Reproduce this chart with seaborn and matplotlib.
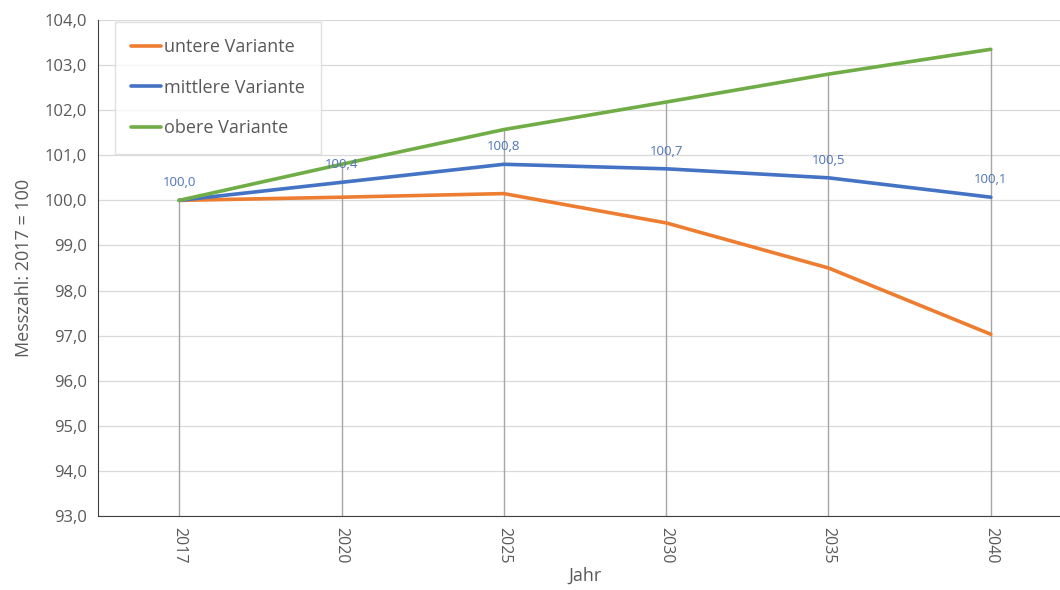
import numpy as np
import pandas as pd
import seaborn as sns
import matplotlib.pyplot as plt

# Data
jahre = ["2017", "2020", "2025", "2030", "2035", "2040"]
untere = [100.0, 100.07, 100.15, 99.5, 98.5, 97.03]
mittlere = [100.0, 100.4, 100.8, 100.7, 100.5, 100.07]
obere = [100.0, 100.8, 101.57, 102.18, 102.8, 103.35]
serien = ["untere Variante", "mittlere Variante", "obere Variante"]
farben = ["#ED7D31", "#4472C4", "#70AD47"]

df = pd.DataFrame({"Jahr": jahre, serien[0]: untere, serien[1]: mittlere, serien[2]: obere})
long = df.melt(id_vars="Jahr", var_name="Variante", value_name="Wert")
long["pos"] = long["Jahr"].map({j: i for i, j in enumerate(jahre)})

sns.set_style("white")
plt.rcParams["font.family"] = ["Open Sans", "DejaVu Sans"]
grau = "#595959"

fig = plt.figure(figsize=(10.6, 5.9), dpi=100)
# plot area runs slightly past the right edge of the image, as in the reference
ax = fig.add_axes([98 / 1060, 1 - 516 / 590, 974 / 1060, 496 / 590])

# horizontal gridlines
for y in np.arange(93, 104.01, 1):
    ax.axhline(y, color="#D9D9D9", lw=0.9, zorder=0)

# drop lines from the highest point down to the axis
maxima = df[serien].max(axis=1).values
ax.vlines(range(len(jahre)), 93, maxima, color="#A6A6A6", lw=1.0, zorder=1)

sns.lineplot(data=long, x="pos", y="Wert", hue="Variante", hue_order=serien,
             palette=farben, lw=2.6, ax=ax, zorder=3)

# data labels for the middle variant
for i, v in enumerate(mittlere):
    ax.annotate(f"{v:.1f}".replace(".", ","), (i, v), xytext=(0, 8),
                textcoords="offset points", ha="center", va="bottom",
                fontsize=9.5, color="#4E74B8", zorder=4)

ax.set_xlim(-0.5, len(jahre) - 0.5)
ax.set_ylim(93, 104)
ax.set_yticks(np.arange(93, 104.01, 1))
ax.set_yticklabels([f"{y:.1f}".replace(".", ",") for y in np.arange(93, 104.01, 1)],
                   fontsize=12, color=grau)
ax.set_xticks(range(len(jahre)))
ax.set_xticklabels(jahre, rotation=270, fontsize=11.5, color=grau)
ax.set_xticks(np.arange(-0.5, len(jahre)), minor=True)
ax.tick_params(axis="x", which="major", length=0, pad=8)
ax.tick_params(axis="x", which="minor", length=5, color="#404040", direction="out")
ax.tick_params(axis="y", length=0, pad=8)

for s in ["top", "right"]:
    ax.spines[s].set_visible(False)
ax.spines["left"].set_color("#404040")
ax.spines["bottom"].set_color("#404040")

ax.set_xlabel("Jahr", fontsize=13, color=grau, labelpad=2)
ax.set_ylabel("Messzahl: 2017 = 100", fontsize=13, color=grau, labelpad=8)

leg = ax.legend(loc="upper left", bbox_to_anchor=(0.0175, 0.996), borderaxespad=0,
                fontsize=13, frameon=True, fancybox=False, edgecolor="#D9D9D9",
                handlelength=1.65, handletextpad=0.15, labelspacing=1.25,
                borderpad=0.9)
for t in leg.get_texts():
    t.set_color(grau)
leg.get_frame().set_linewidth(1.0)

fig.savefig("out.png", dpi=100)
